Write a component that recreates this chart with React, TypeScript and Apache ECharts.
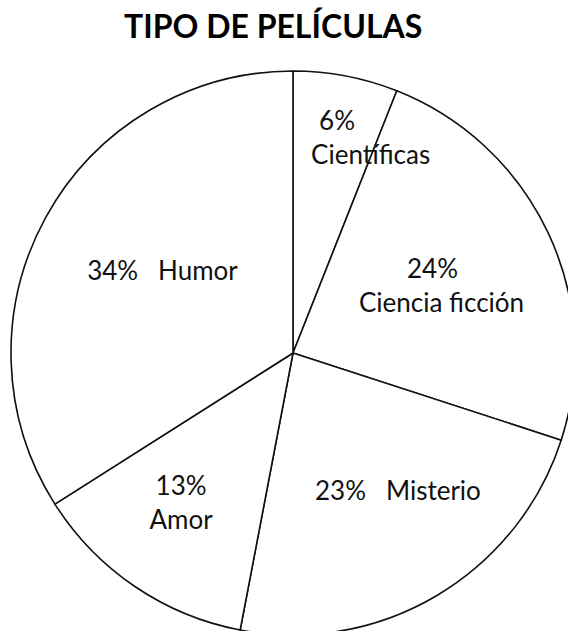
import React, { useEffect, useRef } from "react";
import * as echarts from "echarts";

const titleText = "TIPO DE PELÍCULAS";
const categories = ["Científicas", "Ciencia ficción", "Misterio", "Amor", "Humor"];
const values = [6, 24, 23, 13, 34];

// label layout: [x offset from center / R, y offset from center / R, align]
const labelSpots: [number, number, string][] = [
  [0.064, -0.766, "left"],
  [0.234, -0.241, "left"],
  [0.078, 0.486, "left"],
  [-0.397, 0.528, "center"],
  [-0.730, -0.294, "left"],
];
const firstLinePad = [8, 48, 0, 0, 0];
const multiLine = [true, true, false, true, false];

export default function App() {
  const ref = useRef<HTMLDivElement>(null);
  useEffect(() => {
    if (!ref.current) return;
    const chart = echarts.init(ref.current, undefined, { renderer: "svg" });
    const cx = 293;
    const cy = 353;
    const R = 282;
    const font = "Lato, 'Open Sans', sans-serif";
    chart.setOption({
      animation: false,
      backgroundColor: "#ffffff",
      title: {
        text: titleText,
        left: 119,
        top: 4,
        textStyle: { fontFamily: font, fontWeight: "bold", fontSize: 32, color: "#000" },
      },
      series: [
        {
          type: "pie",
          center: [cx, cy],
          radius: R,
          startAngle: 90,
          clockwise: true,
          silent: true,
          itemStyle: { color: "#ffffff", borderColor: "#111111", borderWidth: 1.6 },
          label: {
            show: true,
            position: "inside",
            color: "#111",
            fontFamily: font,
            fontSize: 26,
            lineHeight: 34,
            formatter: (p: any) => {
              const i = p.dataIndex;
              const pct = values[i] + "%";
              if (multiLine[i]) return "{a|" + pct + "}\n{b|" + categories[i] + "}";
              return "{b|" + pct + "   " + categories[i] + "}";
            },
            rich: {
              a: { fontFamily: font, fontSize: 26, lineHeight: 34, color: "#111" },
              b: { fontFamily: font, fontSize: 26, lineHeight: 34, color: "#111" },
            },
          },
          labelLine: { show: false },
          labelLayout: (p: any) => {
            const s = labelSpots[p.dataIndex];
            return { x: cx + s[0] * R, y: cy + s[1] * R, align: s[2], verticalAlign: "middle" };
          },
          data: categories.map((c, i) => ({
            name: c,
            value: values[i],
            label: {
              align: labelSpots[i][2],
              rich: {
                a: { padding: [0, 0, 0, firstLinePad[i]] },
              },
            },
          })),
        },
      ],
    });
    return () => chart.dispose();
  }, []);
  return (
    <div
      ref={ref}
      style={{ position: "absolute", left: 0, top: 0, width: 568, height: 631 }}
    />
  );
}
